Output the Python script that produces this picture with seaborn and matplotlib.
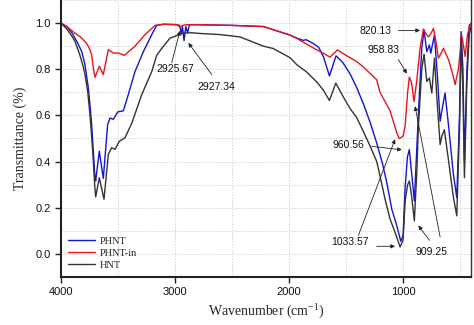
import numpy as np
import pandas as pd
import matplotlib
matplotlib.use("Agg")
import matplotlib.pyplot as plt
from matplotlib.ticker import MultipleLocator
import seaborn as sns

# FTIR spectra: wavenumber (cm^-1) and transmittance
wn_phnt = [4000, 3950, 3900, 3877, 3850, 3818, 3790, 3760, 3745, 3731, 3715, 3702, 3696,
           3664, 3629, 3591, 3570,
           3541, 3503, 3453, 3410, 3351, 3278, 3204, 3161, 3100, 2980, 2960, 2945,
           2935, 2921, 2905, 2890, 2875, 2860, 2800, 2500, 2225, 1991, 1933, 1900,
           1877, 1850, 1789, 1740, 1699, 1646, 1588, 1530, 1465, 1406, 1348, 1289,
           1231, 1180, 1143, 1099, 1055, 1020, 1000, 982, 962, 945, 925, 901, 885,
           866, 836, 816, 792, 769, 757, 745, 725, 700, 675, 660, 632, 600, 560,
           529, 505, 491, 475, 462, 440, 420, 400]
t_phnt = [1.0, 0.985, 0.955, 0.934, 0.91, 0.876, 0.82, 0.718, 0.64, 0.56, 0.43, 0.33, 0.316,
          0.445, 0.327, 0.56, 0.589,
          0.583, 0.615, 0.62, 0.69, 0.79, 0.876, 0.95, 0.99, 0.995, 0.993, 0.99, 0.955,
          0.985, 0.924, 0.985, 0.958, 0.99, 0.993, 0.993, 0.99, 0.985, 0.948, 0.935, 0.93,
          0.925, 0.928, 0.912, 0.895, 0.855, 0.771, 0.858, 0.83, 0.78, 0.72, 0.65, 0.57,
          0.48, 0.39, 0.309, 0.194, 0.122, 0.055, 0.08, 0.287, 0.42, 0.452, 0.35, 0.229, 0.40,
          0.603, 0.891, 0.97, 0.876, 0.905, 0.869, 0.90, 0.948, 0.78, 0.575, 0.62, 0.697, 0.55, 0.35,
          0.244, 0.60, 0.963, 0.80, 0.40, 0.80, 0.99, 1.0]

wn_phnt_in = [4000, 3950, 3900, 3877, 3830, 3789, 3760, 3740, 3731, 3715, 3702, 3664,
              3629, 3585, 3541, 3497, 3445,
              3351, 3263, 3175, 3100, 2980, 2956, 2935, 2900, 2800, 2500, 2225, 1991,
              1933, 1850, 1757, 1700, 1640, 1576, 1500, 1406, 1348, 1231, 1202, 1114,
              1055, 1033, 1000, 982, 960, 945, 925, 904, 880, 851, 822, 800, 778, 755,
              734, 712, 690, 666, 646, 600, 560, 544, 515, 485, 470, 456, 435, 412, 400]
t_phnt_in = [1.0, 0.985, 0.965, 0.956, 0.94, 0.92, 0.90, 0.875, 0.862, 0.80, 0.765, 0.813,
             0.777, 0.885, 0.87, 0.87, 0.86,
             0.90, 0.95, 0.99, 0.995, 0.993, 0.982, 0.99, 0.993, 0.993, 0.99, 0.985, 0.948,
             0.934, 0.91, 0.884, 0.87, 0.852, 0.884, 0.86, 0.833, 0.81, 0.754, 0.70, 0.62,
             0.524, 0.499, 0.51, 0.553, 0.70, 0.766, 0.74, 0.66, 0.75, 0.891, 0.974, 0.955,
             0.94, 0.955, 0.977, 0.92, 0.848, 0.87, 0.891, 0.84, 0.77, 0.733, 0.80, 0.948,
             0.90, 0.855, 0.95, 0.99, 1.0]

wn_hnt = [4000, 3950, 3900, 3877, 3840, 3810, 3789, 3765, 3746, 3730, 3716, 3705, 3696,
          3664, 3623, 3585, 3556, 3526,
          3489, 3439, 3380, 3292, 3204, 3161, 3117, 3044, 2960, 2927, 2854, 2781,
          2600, 2430, 2225, 2140, 1991, 1933, 1850, 1757, 1700, 1646, 1590, 1524,
          1465, 1406, 1348, 1289, 1231, 1202, 1158, 1114, 1070, 1026, 1000, 982,
          960, 945, 925, 901, 880, 866, 836, 816, 792, 769, 748, 725, 700, 675,
          660, 638, 600, 560, 529, 505, 491, 475, 462, 440, 420, 400]
t_hnt = [1.0, 0.975, 0.94, 0.92, 0.87, 0.82, 0.777, 0.70, 0.603, 0.50, 0.40, 0.30, 0.247,
         0.33, 0.237, 0.431, 0.46, 0.453,
         0.488, 0.503, 0.565, 0.69, 0.79, 0.86, 0.89, 0.935, 0.95, 0.957, 0.958, 0.955,
         0.95, 0.94, 0.90, 0.89, 0.85, 0.82, 0.79, 0.745, 0.71, 0.665, 0.74, 0.68,
         0.63, 0.59, 0.53, 0.467, 0.40, 0.337, 0.237, 0.151, 0.093, 0.03, 0.06, 0.23,
         0.30, 0.316, 0.25, 0.143, 0.35, 0.55, 0.80, 0.865, 0.747, 0.762, 0.697, 0.848,
         0.65, 0.474, 0.51, 0.538, 0.40, 0.25, 0.165, 0.55, 0.934, 0.70, 0.33, 0.75, 0.95, 0.99]

series_names = ["PHNT", "PHNT-in", "HNT"]
series_colors = ["#1414d2", "#e8141c", "#333333"]

# peak labels: (text, text position, list of arrows (tail, head))
peak_labels = [
    ("2925.67", (3000, 0.80), [((3029, 0.829), (2956, 0.967))]),
    ("2927.34", (2634, 0.724), [((2678, 0.777), (2883, 0.914))]),
    ("820.13", (1246, 0.964), [((1041, 0.968), (851, 0.968))]),
    ("958.83", (1173, 0.882), [((1041, 0.842), (967, 0.781))]),
    ("960.56", (1480, 0.472), [((1275, 0.466), (1011, 0.451))]),
    ("1033.57", (1465, 0.052), [((1231, 0.033), (1070, 0.033)),
                                ((1392, 0.08), (1070, 0.497))]),
    ("909.25", (748, 0.009), [((769, 0.059), (866, 0.123)),
                              ((675, 0.073), (895, 0.64))]),
]

sns.set_style("white")
plt.rcParams["font.family"] = ["Liberation Sans", "DejaVu Sans"]
plt.rcParams["mathtext.fontset"] = "custom"
plt.rcParams["mathtext.rm"] = "Liberation Serif"
plt.rcParams["mathtext.it"] = "Liberation Serif:italic"

fig = plt.figure(figsize=(4.74, 3.25), dpi=100)
ax = fig.add_axes([0.1287, 0.1477, 0.8660, 0.8523])

frames = []
for name, wn, t in [("PHNT", wn_phnt, t_phnt), ("PHNT-in", wn_phnt_in, t_phnt_in),
                    ("HNT", wn_hnt, t_hnt)]:
    frames.append(pd.DataFrame({"wn": wn, "T": t, "sample": name}))
df = pd.concat(frames, ignore_index=True)

sns.lineplot(data=df, x="wn", y="T", hue="sample", hue_order=series_names,
             palette=series_colors, sort=False, estimator=None, lw=1.0, ax=ax)

ax.set_xlim(4000, 400)
ax.set_ylim(-0.1, 1.1)
ax.xaxis.set_major_locator(MultipleLocator(1000))
ax.xaxis.set_minor_locator(MultipleLocator(500))
ax.yaxis.set_major_locator(MultipleLocator(0.2))
ax.yaxis.set_minor_locator(MultipleLocator(0.1))
ax.set_xticks([4000, 3000, 2000, 1000])
ax.set_yticks([0.0, 0.2, 0.4, 0.6, 0.8, 1.0])
ax.set_yticklabels(["0.0", "0.2", "0.4", "0.6", "0.8", "1.0"])
ax.grid(True, which="both", ls=(0, (1.5, 2)), lw=0.6, color="#c8c8c8")
ax.tick_params(axis="both", which="major", direction="out", length=4, width=1,
               labelsize=8, color="#222222", labelcolor="#111111",
               bottom=True, left=True)
ax.tick_params(axis="both", which="minor", length=0)

for side in ["left", "bottom"]:
    ax.spines[side].set_linewidth(1.5)
    ax.spines[side].set_color("#222222")
ax.spines["right"].set_linewidth(1.0)
ax.spines["right"].set_color("#333333")
ax.spines["top"].set_visible(False)

ax.set_xlabel("Wavenumber (cm$^{-1}$)", family="Liberation Serif", fontsize=10,
              labelpad=4)
ax.set_ylabel("Transmittance (%)", family="Liberation Serif", fontsize=10,
              labelpad=6)

leg = ax.legend(loc="lower left", frameon=False,
                prop={"family": "Liberation Serif", "size": 7.5},
                handlelength=2.6, labelspacing=0.25, borderaxespad=0.3,
                handletextpad=0.4)

for text, pos, arrows in peak_labels:
    ax.text(pos[0], pos[1], text, fontsize=7.5, ha="center", va="center",
            color="#111111")
    for tail, head in arrows:
        ax.annotate("", xy=head, xytext=tail,
                    arrowprops=dict(arrowstyle="-|>", lw=0.6, color="#222222",
                                    mutation_scale=6, shrinkA=0, shrinkB=0))

fig.savefig("out.png", dpi=100)
